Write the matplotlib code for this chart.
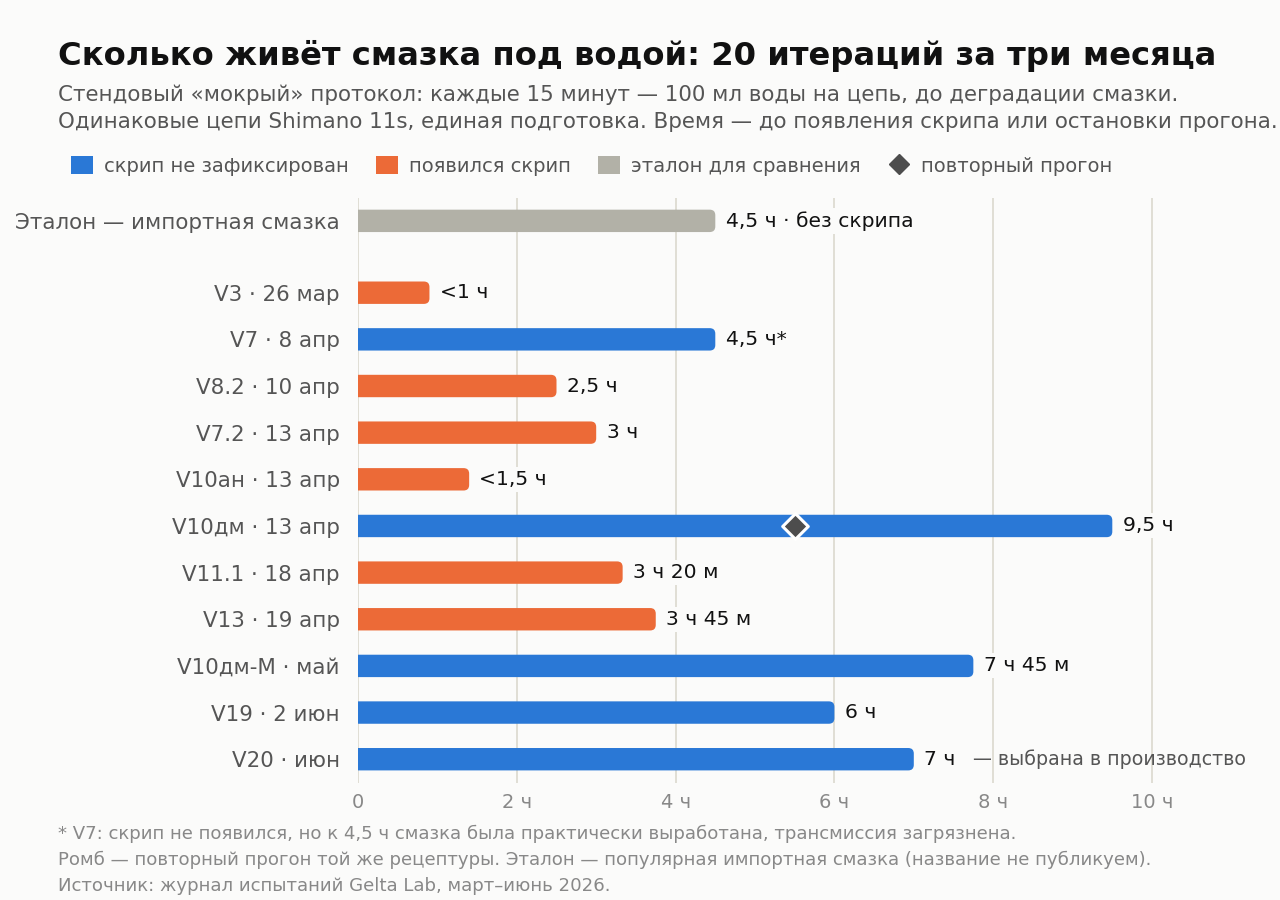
import matplotlib
matplotlib.use("Agg")
import matplotlib.pyplot as plt
from matplotlib.patches import FancyBboxPatch, Patch
from matplotlib.lines import Line2D

plt.rcParams['font.family'] = ['DejaVu Sans']

# ---- data ----
labels = ["Эталон — импортная смазка", "V3 · 26 мар", "V7 · 8 апр", "V8.2 · 10 апр",
          "V7.2 · 13 апр", "V10ан · 13 апр", "V10дм · 13 апр", "V11.1 · 18 апр",
          "V13 · 19 апр", "V10дм-М · май", "V19 · 2 июн", "V20 · июн"]
hours = [4.5, 0.9, 4.5, 2.5, 3.0, 1.4, 9.5, 3.333, 3.75, 7.75, 6.0, 7.0]
status = ["etalon", "squeak", "none", "squeak", "squeak", "squeak", "none",
          "squeak", "squeak", "none", "none", "none"]
value_labels = ["4,5 ч · без скрипа", "<1 ч", "4,5 ч*", "2,5 ч", "3 ч", "<1,5 ч",
                "9,5 ч", "3 ч 20 м", "3 ч 45 м", "7 ч 45 м", "6 ч", "7 ч"]
repeat_label = "V10дм · 13 апр"
repeat_value = 5.5
xticks = [0, 2, 4, 6, 8, 10]
xtick_labels = ["0", "2 ч", "4 ч", "6 ч", "8 ч", "10 ч"]
production_label = "V20 · июн"
production_note = "— выбрана в производство"

legend_labels = ["скрип не зафиксирован", "появился скрип", "эталон для сравнения", "повторный прогон"]

# ---- style ----
BG = "#fbfbfa"
colors = {"none": "#2a78d6", "squeak": "#ec6a37", "etalon": "#b2b1a7"}
DIAMOND = "#4d4d4d"
GRID = "#dedbd2"
PX_X = 79.4   # px per hour
PX_Y = 46.7   # px per row

fig = plt.figure(figsize=(12.8, 9), dpi=100, facecolor=BG)
ax = fig.add_axes([358/1280, 1-783/900, (11.5*PX_X)/1280, 585/900])
ax.set_facecolor(BG)

ypos = [0.0] + [1.54 + i for i in range(len(labels) - 1)]
bar_h = 0.48

bars = ax.barh(ypos, [h + 0.1 for h in hours], left=-0.1, height=bar_h,
               color=[colors[s] for s in status])
# replace with rounded bars (left end clipped by the axis)
for b in bars:
    x, y = b.get_x(), b.get_y()
    w, h = b.get_width(), b.get_height()
    fc = b.get_facecolor()
    b.set_visible(False)
    rp = FancyBboxPatch((x, y), w, h,
                        boxstyle="round,pad=0,rounding_size=0.07",
                        mutation_aspect=PX_X/PX_Y,
                        facecolor=fc, edgecolor="none", zorder=3)
    ax.add_patch(rp)

for yp, h, vl in zip(ypos, hours, value_labels):
    ax.text(h + 0.13, yp, vl, va="center", ha="left", fontsize=14.6, color="#111111",
            zorder=5, bbox=dict(boxstyle="square,pad=0.15", fc=BG, ec="none"))

ri = labels.index(repeat_label)
ax.scatter([repeat_value], [ypos[ri]], marker="D", s=170, color=DIAMOND,
           edgecolor="white", linewidth=2.2, zorder=6)

pi = labels.index(production_label)
ax.text(hours[pi] + 0.75, ypos[pi], production_note, va="center", ha="left",
        fontsize=13.7, color="#555555", zorder=5)

ax.set_xlim(0, 11.5)
ax.set_ylim(ypos[-1] + 0.51, -0.49)
ax.set_yticks(ypos)
ax.set_yticklabels(labels, fontsize=15.4, color="#555555")
ax.set_xticks(xticks)
ax.set_xticklabels(xtick_labels, fontsize=14, color="#888888")
ax.tick_params(axis="both", length=0)
ax.tick_params(axis="y", pad=13)
ax.tick_params(axis="x", pad=7)
for s in ax.spines.values():
    s.set_visible(False)
ax.grid(axis="x", color=GRID, linewidth=1.3, zorder=0)
ax.set_axisbelow(True)

# ---- titles ----
fig.text(58/1280, 1-56/900, "Сколько живёт смазка под водой: 20 итераций за три месяца",
         fontsize=23.2, fontweight="bold", color="#111111", va="center", ha="left")
fig.text(58/1280, 1-95/900,
         "Стендовый «мокрый» протокол: каждые 15 минут — 100 мл воды на цепь, до деградации смазки.",
         fontsize=15.4, color="#555555", va="center", ha="left")
fig.text(58/1280, 1-122/900,
         "Одинаковые цепи Shimano 11s, единая подготовка. Время — до появления скрипа или остановки прогона.",
         fontsize=15.4, color="#555555", va="center", ha="left")

# ---- legend ----
handles = [Patch(facecolor=colors["none"]), Patch(facecolor=colors["squeak"]),
           Patch(facecolor=colors["etalon"]),
           Line2D([], [], marker="D", linestyle="none", color=DIAMOND, markersize=10.5)]
fig.legend(handles, legend_labels, loc="center left", bbox_to_anchor=(53/1280, 1-166/900),
           ncol=4, frameon=False, fontsize=14, labelcolor="#555555",
           handlelength=1.15, handleheight=1.0, handletextpad=0.55, columnspacing=1.40)

# ---- footer ----
foot = ["* V7: скрип не появился, но к 4,5 ч смазка была практически выработана, трансмиссия загрязнена.",
        "Ромб — повторный прогон той же рецептуры. Эталон — популярная импортная смазка (название не публикуем).",
        "Источник: журнал испытаний Gelta Lab, март–июнь 2026."]
for i, t in enumerate(foot):
    fig.text(58/1280, 1-(834 + 26*i)/900, t, fontsize=13.1, color="#888888", va="center", ha="left")

fig.savefig("out.png", dpi=100, facecolor=BG)
